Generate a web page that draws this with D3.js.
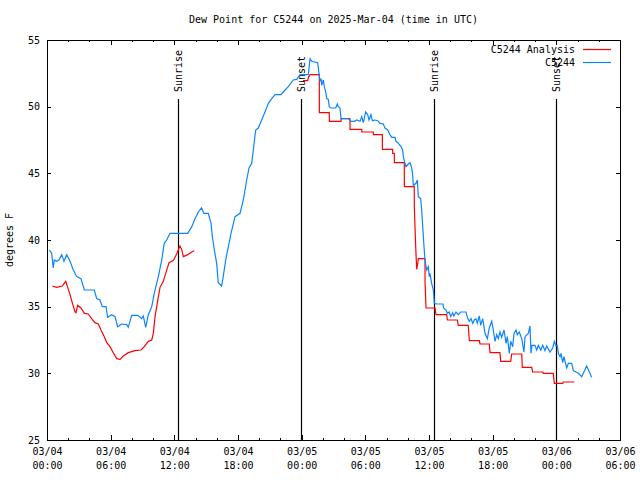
<!DOCTYPE html>
<html><head><meta charset="utf-8">
<script src="https://cdn.jsdelivr.net/npm/d3@7"></script>
<style>
body{margin:0;background:#fff}
text{font-family:"DejaVu Sans Mono","Liberation Mono",monospace;font-size:10px;fill:#000}
</style></head>
<body><svg id="c" width="640" height="480"></svg>
<script>
// Hours since 2025-03-04 00:00 UTC
const obsHours = [0.22,0.44,0.59,0.69,0.91,1.13,1.39,1.60,1.86,2.17,2.48,2.80,3.20,3.52,4.46,4.68,4.99,5.21,5.56,5.72,6.10,6.41,6.66,7.04,7.51,7.66,7.98,8.55,8.92,9.08,9.30,9.55,9.87,10.11,10.49,10.81,11.05,11.28,11.59,13.26,13.64,13.95,14.26,14.56,14.78,15.20,15.46,15.58,15.77,15.99,16.14,16.46,16.61,16.84,17.09,17.34,17.72,18.19,18.50,18.82,19.04,19.29,19.44,19.67,19.91,20.23,20.54,20.86,21.18,21.49,22.05,22.27,22.74,23.21,23.53,23.84,24.63,24.79,24.95,25.51,25.63,25.73,25.82,25.89,26.04,26.13,26.27,26.36,26.51,26.60,26.76,27.21,27.36,27.45,27.61,27.71,28.40,28.65,28.96,29.19,29.50,29.66,29.81,30.03,30.22,30.35,30.53,30.66,30.91,31.17,31.38,31.69,31.85,32.11,32.32,32.49,32.80,32.89,33.11,33.33,33.52,33.58,33.74,33.83,34.05,34.21,34.37,34.46,34.52,34.78,34.90,34.99,35.22,35.31,35.41,35.53,35.62,35.78,35.93,36.03,36.09,36.25,36.41,36.50,36.73,37.32,37.37,37.60,37.72,37.91,38.04,38.23,38.35,38.54,38.76,38.99,39.49,39.61,39.80,39.96,40.12,40.27,40.43,40.55,40.74,40.87,41.06,41.28,41.50,41.68,41.91,42.06,42.22,42.38,42.53,42.69,42.85,43.07,43.26,43.38,43.57,43.70,43.89,44.01,44.20,44.32,44.51,44.74,44.95,45.05,45.36,45.52,45.61,45.71,45.99,46.15,46.30,46.53,46.72,46.93,47.09,47.40,47.66,47.81,47.97,48.09,48.19,48.35,48.44,48.60,48.72,48.82,48.98,49.13,49.45,49.60,50.08,50.39,50.86,51.33];
const obsValues = [39.25,39.0,37.9,38.5,38.4,38.5,38.9,38.4,38.9,38.4,37.75,37.25,37.1,36.25,36.25,35.6,35.5,35.0,35.0,34.2,34.4,34.25,33.5,33.7,33.65,33.45,34.35,34.35,34.1,34.3,33.45,34.4,35.0,36.0,37.25,38.5,39.75,40.0,40.5,40.5,41.0,41.6,42.1,42.4,42.0,42.0,41.25,40.25,39.25,38.25,36.8,36.55,37.25,38.5,39.5,40.5,41.75,42.0,43.0,44.5,45.4,45.75,46.75,48.25,48.4,49.0,49.6,50.25,50.6,50.9,50.9,51.1,51.5,52.0,52.05,52.4,52.4,53.6,53.4,53.3,52.5,51.9,52.1,51.6,52.0,51.5,51.1,50.6,50.55,50.0,49.9,49.9,50.2,50.0,49.9,49.1,49.1,48.9,48.9,49.0,48.9,49.25,48.8,49.6,49.4,49.0,49.4,48.95,49.0,48.95,48.75,48.7,48.4,48.25,47.9,47.7,47.7,47.4,47.25,47.05,46.75,46.25,45.75,45.5,45.7,45.8,45.4,44.9,44.1,44.25,44.5,43.25,43.1,42.25,41.0,39.5,38.5,37.75,38.0,37.25,37.5,36.75,36.25,35.25,35.2,35.2,34.9,34.75,34.5,34.6,34.25,34.55,34.3,34.6,34.4,34.6,34.6,34.2,33.9,34.1,33.75,34.0,34.1,33.75,34.3,33.6,34.1,33.0,32.6,33.4,33.9,33.25,32.4,32.9,32.6,33.1,32.7,33.25,32.25,32.75,31.5,32.4,32.0,33.0,33.25,32.9,33.1,32.6,31.6,32.75,33.0,33.55,31.5,32.1,32.1,31.75,32.1,31.75,32.1,31.7,32.05,31.6,31.9,32.4,32.05,32.1,31.5,31.25,31.5,30.8,31.25,30.9,30.4,30.75,30.75,30.2,30.0,29.75,30.55,29.7];

// Analysis (null marks the gap)
const anaHours = [0.50,0.91,1.44,1.76,1.95,2.17,2.38,2.64,2.73,2.89,3.20,3.52,3.89,4.21,4.52,4.83,5.09,5.40,5.63,5.94,6.25,6.57,6.88,7.19,7.66,8.29,8.86,9.17,9.55,9.87,10.02,10.18,10.39,10.65,10.96,11.19,11.50,11.90,12.22,12.53,12.69,12.85,13.26,13.64,13.88,
  18.0,
  24.13,24.57,24.64,24.79,25.66,25.67,26.60,26.61,27.71,27.72,28.55,28.56,29.66,29.67,30.75,30.76,31.60,31.61,32.57,32.58,32.73,32.74,33.67,33.68,34.61,34.62,34.75,34.84,34.94,34.99,35.62,35.63,35.72,36.57,36.66,37.67,37.73,38.67,38.76,39.70,39.80,40.74,40.81,41.68,41.75,42.69,42.76,43.70,43.79,44.74,44.79,45.68,45.77,46.72,46.77,47.71,47.81,48.60,48.66,49.69];
const anaValues = [36.55,36.45,36.55,36.9,36.45,35.9,35.3,34.6,34.55,35.1,34.9,34.5,34.45,34.1,33.8,33.7,33.25,32.75,32.3,32.0,31.55,31.1,31.05,31.3,31.55,31.7,31.75,32.0,32.4,32.5,33.0,34.25,35.25,36.45,36.9,37.5,38.3,38.45,38.95,39.55,39.3,38.75,38.9,39.1,39.2,
  null,
  51.95,51.95,52.2,52.4,52.4,49.55,49.55,48.9,48.9,49.1,49.1,48.3,48.3,48.1,48.1,47.9,47.9,46.8,46.8,46.5,46.5,45.8,45.8,44.0,44.0,42.4,39.4,37.8,38.25,38.6,38.6,36.75,34.9,34.9,34.4,34.4,34.0,34.0,33.6,33.6,32.45,32.45,32.2,32.2,31.55,31.55,30.9,30.9,31.45,31.45,30.45,30.45,30.1,30.1,30.0,30.0,29.25,29.25,29.35,29.35];

const sunEvents = [{label:"Sunrise", hour:12.37},{label:"Sunset", hour:23.95},{label:"Sunrise", hour:36.47},{label:"Sunset", hour:47.98}];
const yTicks = [25,30,35,40,45,50,55];
const seriesNames = ["C5244 Analysis","C5244"];
const seriesColors = ["#ff0000","#0a85ff"];

const base = Date.UTC(2025,2,4,0,0);
const toDate = h => new Date(base + h*3600e3);
const L=47, R=620, T=40, B=440;
const svg = d3.select("#c");
const x = d3.scaleUtc().domain([toDate(0), toDate(54)]).range([L,R]);
const y = d3.scaleLinear().domain([25,55]).range([B,T]);

svg.append("text").attr("x",(L+R)/2).attr("y",23).attr("text-anchor","middle")
  .text("Dew Point for C5244 on 2025-Mar-04 (time in UTC)");
svg.append("text").attr("transform",`translate(13,${(T+B)/2}) rotate(-90)`).attr("text-anchor","middle")
  .text("degrees F");

// axes
const fmtD = d3.utcFormat("%m/%d"), fmtT = d3.utcFormat("%H:%M");
const xb = svg.append("g").attr("transform",`translate(0,${B})`)
  .call(d3.axisBottom(x).ticks(d3.utcHour.every(6)).tickSizeInner(-5).tickSizeOuter(0).tickPadding(9).tickFormat(()=>""));
xb.selectAll(".tick text").each(function(d){
  const t=d3.select(this);
  t.append("tspan").attr("x",0).attr("dy","0.6em").text(fmtD(d));
  t.append("tspan").attr("x",0).attr("dy","1.4em").text(fmtT(d));
});
svg.append("g").attr("transform",`translate(0,${B})`)
  .call(d3.axisBottom(x).ticks(d3.utcHour.every(2)).tickSizeInner(-2).tickSizeOuter(0).tickFormat(()=>""));
svg.append("g").attr("transform",`translate(0,${T})`)
  .call(d3.axisTop(x).ticks(d3.utcHour.every(6)).tickSizeInner(-5).tickSizeOuter(0).tickFormat(()=>""));
svg.append("g").attr("transform",`translate(0,${T})`)
  .call(d3.axisTop(x).ticks(d3.utcHour.every(2)).tickSizeInner(-2).tickSizeOuter(0).tickFormat(()=>""));
svg.append("g").attr("transform",`translate(${L},0)`)
  .call(d3.axisLeft(y).tickValues(yTicks).tickSizeInner(-4).tickSizeOuter(0).tickPadding(7).tickFormat(d3.format("d")));
svg.append("g").attr("transform",`translate(${R},0)`)
  .call(d3.axisRight(y).tickValues(yTicks).tickSizeInner(-4).tickSizeOuter(0).tickFormat(()=>""));
svg.selectAll(".domain").remove();
svg.selectAll(".tick line").attr("stroke","#000").attr("shape-rendering","crispEdges");
svg.selectAll(".tick text").attr("font-family",null).attr("font-size",null);
svg.selectAll("g").attr("font-family",null).attr("font-size",null);
svg.append("rect").attr("x",L).attr("y",T).attr("width",R-L).attr("height",B-T)
  .attr("fill","none").attr("stroke","#000").attr("shape-rendering","crispEdges");

// sun events
const se = svg.append("g").selectAll("g").data(sunEvents).join("g");
se.append("line").attr("x1",d=>Math.round(x(toDate(d.hour)))+0.5).attr("x2",d=>Math.round(x(toDate(d.hour)))+0.5)
  .attr("y1",99).attr("y2",B).attr("stroke","#000").attr("stroke-width",1.2);
se.append("text").attr("transform",d=>`translate(${x(toDate(d.hour))+4},92) rotate(-90)`)
  .attr("text-anchor","start").text(d=>d.label);

// clip
svg.append("clipPath").attr("id","clip").append("rect").attr("x",L).attr("y",T).attr("width",R-L).attr("height",B-T);
const plot = svg.append("g").attr("clip-path","url(#clip)");
const ana = anaHours.map((h,i)=>({h, v:anaValues[i]}));
const obs = obsHours.map((h,i)=>({h, v:obsValues[i]}));
const line = d3.line().defined(d=>d.v!=null).x(d=>x(toDate(d.h))).y(d=>y(d.v));
plot.append("path").datum(ana).attr("d",line).attr("fill","none").attr("stroke",seriesColors[0]).attr("stroke-width",1.2);
plot.append("path").datum(obs).attr("d",line).attr("fill","none").attr("stroke",seriesColors[1]).attr("stroke-width",1.2);

// legend
const lg = svg.append("g").selectAll("g").data(seriesNames).join("g")
  .attr("transform",(d,i)=>`translate(0,${49+i*13})`);
lg.append("text").attr("x",575).attr("y",3.5).attr("text-anchor","end").text(d=>d);
lg.append("line").attr("x1",583).attr("x2",611).attr("y1",0.5).attr("y2",0.5)
  .attr("stroke",(d,i)=>seriesColors[i]).attr("stroke-width",1.2);
</script></body></html>
